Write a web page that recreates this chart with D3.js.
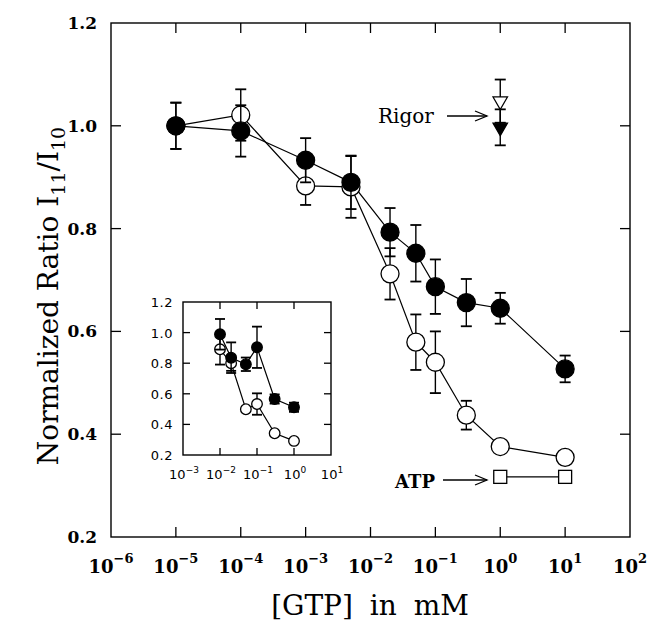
<!DOCTYPE html>
<html>
<head>
<meta charset="utf-8">
<script src="https://cdn.jsdelivr.net/npm/d3@7"></script>
<style>
  body { margin: 0; background: #fff; }
  svg { display: block; }
</style>
</head>
<body>
<svg width="651" height="629"></svg>
<script>
// GTP concentration (mM) for the two main series
const conc = [1e-5, 1e-4, 1e-3, 5e-3, 2e-2, 5e-2, 1e-1, 3e-1, 1, 10];
const filledRatio = [1.0, 0.990, 0.933, 0.890, 0.793, 0.752, 0.687, 0.656, 0.645, 0.527];
const filledErr = [0.045, 0.05, 0.043, 0.052, 0.047, 0.055, 0.053, 0.046, 0.03, 0.026];
const openRatio = [1.0, 1.021, 0.883, 0.881, 0.712, 0.579, 0.540, 0.437, 0.376, 0.355];
const openErr = [0.045, 0.05, 0.037, 0.06, 0.05, 0.054, 0.06, 0.028, 0, 0];

// reference states
const atpConc = [1, 10];
const atpRatio = [0.317, 0.317];
const rigorConc = [1, 1];
const rigorRatio = [1.048, 0.997];
const rigorErr = [0.042, 0.035];

// inset
const insetConc = [0.01, 0.02, 0.05, 0.1, 0.3, 1];
const insetFilledRatio = [0.989, 0.836, 0.793, 0.904, 0.566, 0.512];
const insetFilledErr = [0.1, 0.1, 0.044, 0.135, 0.03, 0.03];
const insetOpenRatio = [0.891, 0.80, 0.499, 0.533, 0.342, 0.292];
const insetOpenErr = [0.1, 0.05, 0, 0.07, 0, 0];

const yTicks = [0.2, 0.4, 0.6, 0.8, 1.0, 1.2];
const xExpMain = [-6, -5, -4, -3, -2, -1, 0, 1, 2];
const xExpInset = [-3, -2, -1, 0, 1];

const svg = d3.select("svg");
const serif = "'DejaVu Serif', serif";
const sans = "'DejaVu Sans', sans-serif";

const x = d3.scaleLog().domain([1e-6, 1e2]).range([111, 630]);
const y = d3.scaleLinear().domain([0.2, 1.2]).range([537, 23]);

const xi = d3.scaleLog().domain([1e-3, 1e1]).range([183, 331]);
const yi = d3.scaleLinear().domain([0.2, 1.2]).range([455, 302]);

const zip = (xs, ys, es) => xs.map((c, i) => ({ c, v: ys[i], e: es ? es[i] : 0 }));

// frame + inward ticks on all four sides
const drawFrame = (g, sx, sy, xt, yt, len) => {
  const [x0, x1] = sx.range(), [y0, y1] = sy.range();
  g.append("rect")
    .attr("x", x0).attr("y", y1)
    .attr("width", x1 - x0).attr("height", y0 - y1)
    .attr("fill", "none").attr("stroke", "#000").attr("stroke-width", 1.4);
  xt.forEach(t => {
    g.append("line").attr("x1", sx(t)).attr("x2", sx(t)).attr("y1", y0).attr("y2", y0 - len).attr("stroke", "#000").attr("stroke-width", 1.3);
    g.append("line").attr("x1", sx(t)).attr("x2", sx(t)).attr("y1", y1).attr("y2", y1 + len).attr("stroke", "#000").attr("stroke-width", 1.3);
  });
  yt.forEach(t => {
    g.append("line").attr("x1", x0).attr("x2", x0 + len).attr("y1", sy(t)).attr("y2", sy(t)).attr("stroke", "#000").attr("stroke-width", 1.3);
    g.append("line").attr("x1", x1).attr("x2", x1 - len).attr("y1", sy(t)).attr("y2", sy(t)).attr("stroke", "#000").attr("stroke-width", 1.3);
  });
};

const drawLine = (g, pts, sx, sy) => {
  g.append("path")
    .attr("d", d3.line().x(d => sx(d.c)).y(d => sy(d.v))(pts))
    .attr("fill", "none").attr("stroke", "#000").attr("stroke-width", 1.2);
};

const drawErr = (g, pts, sx, sy, cap) => {
  pts.filter(d => d.e > 0).forEach(d => {
    const cx = sx(d.c);
    g.append("line").attr("x1", cx).attr("x2", cx).attr("y1", sy(d.v - d.e)).attr("y2", sy(d.v + d.e)).attr("stroke", "#000").attr("stroke-width", 1.4);
    [d.v - d.e, d.v + d.e].forEach(v => {
      g.append("line").attr("x1", cx - cap).attr("x2", cx + cap).attr("y1", sy(v)).attr("y2", sy(v)).attr("stroke", "#000").attr("stroke-width", 1.8);
    });
  });
};

const drawCircles = (g, pts, sx, sy, r, filled) => {
  g.selectAll(null).data(pts).enter().append("circle")
    .attr("cx", d => sx(d.c)).attr("cy", d => sy(d.v)).attr("r", r)
    .attr("fill", filled ? "#000" : "#fff")
    .attr("stroke", "#000").attr("stroke-width", 1.3);
};

// arrow with an open chevron head
const drawArrow = (g, xa, xb, yy) => {
  g.append("line").attr("x1", xa).attr("x2", xb).attr("y1", yy).attr("y2", yy).attr("stroke", "#000").attr("stroke-width", 1.3);
  g.append("path")
    .attr("d", `M${xb - 12},${yy - 5} L${xb},${yy} L${xb - 12},${yy + 5}`)
    .attr("fill", "none").attr("stroke", "#000").attr("stroke-width", 1.3);
};

const main = svg.append("g");
drawFrame(main, x, y, xExpMain.slice(1, -1).map(e => Math.pow(10, e)), yTicks.slice(1, -1), 10);

// y tick labels
main.selectAll(null).data(yTicks).enter().append("text")
  .attr("x", 97).attr("y", d => y(d) + 6)
  .attr("text-anchor", "end")
  .style("font", `bold 17px ${serif}`)
  .text(d => d.toFixed(1));

// x tick labels 10^n
xExpMain.forEach(e => {
  const t = main.append("text")
    .attr("x", x(Math.pow(10, e))).attr("y", 573)
    .attr("text-anchor", "middle")
    .style("font", `bold 18px ${serif}`);
  t.append("tspan").text("10");
  t.append("tspan").attr("dy", -10).style("font-size", "13px").text(e < 0 ? "\u2212" + (-e) : e);
});

// axis titles
main.append("text")
  .attr("x", 370).attr("y", 615)
  .attr("text-anchor", "middle")
  .style("font", `28px ${serif}`).style("word-spacing", "8px")
  .text("[GTP] in mM");

const ylab = main.append("text")
  .attr("transform", "translate(58,296) rotate(-90)")
  .attr("text-anchor", "middle")
  .style("font", `28px ${serif}`);
ylab.append("tspan").text("Normalized Ratio I");
ylab.append("tspan").attr("dy", 7).style("font-size", "19px").text("11");
ylab.append("tspan").attr("dy", -7).text("/I");
ylab.append("tspan").attr("dy", 7).style("font-size", "19px").text("10");

const filled = zip(conc, filledRatio, filledErr);
const open = zip(conc, openRatio, openErr);
const atp = zip(atpConc, atpRatio);

drawLine(main, open, x, y);
drawLine(main, filled, x, y);
drawLine(main, atp, x, y);
drawErr(main, open, x, y, 5.5);
drawCircles(main, open, x, y, 9, false);
drawErr(main, filled, x, y, 5.5);
drawCircles(main, filled, x, y, 9, true);

// ATP squares
main.selectAll(null).data(atp).enter().append("rect")
  .attr("x", d => x(d.c) - 6.5).attr("y", d => y(d.v) - 6.5)
  .attr("width", 13).attr("height", 13)
  .attr("fill", "#fff").attr("stroke", "#000").attr("stroke-width", 1.3);

// rigor triangles (open above, filled below)
const rigor = zip(rigorConc, rigorRatio, rigorErr);
drawErr(main, rigor, x, y, 5.5);
const tri = d3.symbol().type(d3.symbolTriangle).size(90);
main.selectAll(null).data(rigor).enter().append("path")
  .attr("d", tri)
  .attr("transform", d => `translate(${x(d.c)},${y(d.v)}) rotate(180)`)
  .attr("fill", (d, i) => i === 0 ? "#fff" : "#000")
  .attr("stroke", "#000").attr("stroke-width", 1.3);

main.append("text").attr("x", 378).attr("y", 123)
  .style("font", `20px ${serif}`).text("Rigor");
drawArrow(main, 447, 487, 116);

main.append("text").attr("x", 395).attr("y", 488)
  .style("font", `bold 18px ${serif}`).text("ATP");
drawArrow(main, 443, 487, 480);

// inset
const inset = svg.append("g");
drawFrame(inset, xi, yi, [1e-2, 1e-1, 1], yTicks.slice(1, -1), 7);

inset.selectAll(null).data(yTicks).enter().append("text")
  .attr("x", 173).attr("y", d => yi(d) + 5)
  .attr("text-anchor", "end")
  .style("font", `13px ${sans}`).style("letter-spacing", "0.5px")
  .text(d => d.toFixed(1));

xExpInset.forEach(e => {
  const t = inset.append("text")
    .attr("x", xi(Math.pow(10, e)) + 1).attr("y", 479)
    .attr("text-anchor", "middle")
    .style("font", `13px ${sans}`);
  t.append("tspan").text("10");
  t.append("tspan").attr("dy", -6).style("font-size", "9px").text(e < 0 ? "\u2212" + (-e) : e);
});

const iFilled = zip(insetConc, insetFilledRatio, insetFilledErr);
const iOpen = zip(insetConc, insetOpenRatio, insetOpenErr);
drawLine(inset, iOpen, xi, yi);
drawLine(inset, iFilled, xi, yi);
drawErr(inset, iOpen, xi, yi, 5);
drawCircles(inset, iOpen, xi, yi, 5.3, false);
drawErr(inset, iFilled, xi, yi, 5);
drawCircles(inset, iFilled, xi, yi, 5.3, true);
</script>
</body>
</html>
